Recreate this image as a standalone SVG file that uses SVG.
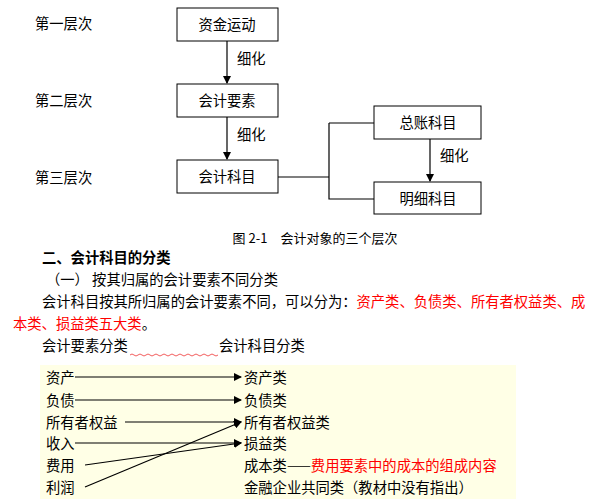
<svg xmlns="http://www.w3.org/2000/svg" width="613" height="499" viewBox="0 0 613 499">
<style>
text{font-family:"Noto Sans CJK SC","Liberation Sans",sans-serif;font-size:14.3px;fill:#000}
.b{fill:#fff;stroke:#000;stroke-width:1}
.c{text-anchor:middle}
.l{stroke:#000;stroke-width:1.2;fill:none}
.r{fill:#f00}
</style>
<defs><marker id="a" markerWidth="8" markerHeight="8" refX="7" refY="4" orient="auto" markerUnits="userSpaceOnUse"><path d="M0,0L8,4L0,8z" fill="#000"/></marker></defs>
<rect width="613" height="499" fill="#fff"/>
<text x="35" y="29">第一层次</text>
<text x="35" y="106">第二层次</text>
<text x="35" y="183">第三层次</text>
<g id="n1"><rect class="b" x="177" y="8" width="101" height="33"/><text class="c" x="227" y="30">资金运动</text></g>
<g id="n2"><rect class="b" x="177" y="84" width="101" height="33"/><text class="c" x="227" y="106">会计要素</text></g>
<g id="n3"><rect class="b" x="177" y="160" width="101" height="33"/><text class="c" x="227" y="182">会计科目</text></g>
<g id="n4"><rect class="b" x="374" y="106" width="107" height="33"/><text class="c" x="428" y="128">总账科目</text></g>
<g id="n5"><rect class="b" x="374" y="182" width="107" height="32"/><text class="c" x="428" y="204">明细科目</text></g>
<g id="edges">
<path class="l" d="M227,41V83" marker-end="url(#a)"/>
<path class="l" d="M227,117V159" marker-end="url(#a)"/>
<path class="l" d="M430,139V181" marker-end="url(#a)"/>
<path class="l" d="M278,177H329M329,123H374M329,123V199H374"/>
<text x="237" y="64">细化</text><text x="237" y="140">细化</text><text x="440" y="161">细化</text>
</g>
<text class="c" x="315" y="243" style="font-size:13px">图 2-1　会计对象的三个层次</text>
<text x="42" y="263" style="font-weight:bold">二、会计科目的分类</text>
<text x="46" y="285">（一） 按其归属的会计要素不同分类</text>
<text x="42" y="307">会计科目按其所归属的会计要素不同，可以分为：<tspan class="r">资产类、负债类、所有者权益类、成</tspan></text>
<text x="13" y="329"><tspan class="r">本类、损益类五大类</tspan>。</text>
<text x="42" y="351">会计要素分类</text>
<path d="M130,355q2,-2 4,0t4,0t4,0t4,0t4,0t4,0t4,0t4,0t4,0t4,0t4,0t4,0t4,0t4,0t4,0t4,0t4,0t4,0t4,0t4,0t4,0t4,0" stroke="#e33" fill="none" stroke-width="0.8"/>
<text x="219" y="351">会计科目分类</text>
<rect x="40" y="365" width="476" height="134" fill="#ffffe6"/>
<g>
<text x="46" y="383">资产</text><text x="46" y="406">负债</text><text x="46" y="428">所有者权益</text><text x="46" y="449">收入</text><text x="46" y="471">费用</text><text x="46" y="493">利润</text>
<text x="244" y="383">资产类</text><text x="244" y="406">负债类</text><text x="244" y="428">所有者权益类</text><text x="244" y="449">损益类</text>
<text x="244" y="471">成本类——<tspan class="r">费用要素中的成本的组成内容</tspan></text>
<text x="244" y="493">金融企业共同类（教材中没有指出）</text>
</g>
<g id="arrows">
<path class="l" d="M75,377H241" marker-end="url(#a)"/>
<path class="l" d="M75,400H241" marker-end="url(#a)"/>
<path class="l" d="M125,422H241" marker-end="url(#a)"/>
<path class="l" d="M75,443H241" marker-end="url(#a)"/>
<path class="l" d="M85,465L241,443" marker-end="url(#a)"/>
<path class="l" d="M85,487L241,422" marker-end="url(#a)"/>
</g>
</svg>
